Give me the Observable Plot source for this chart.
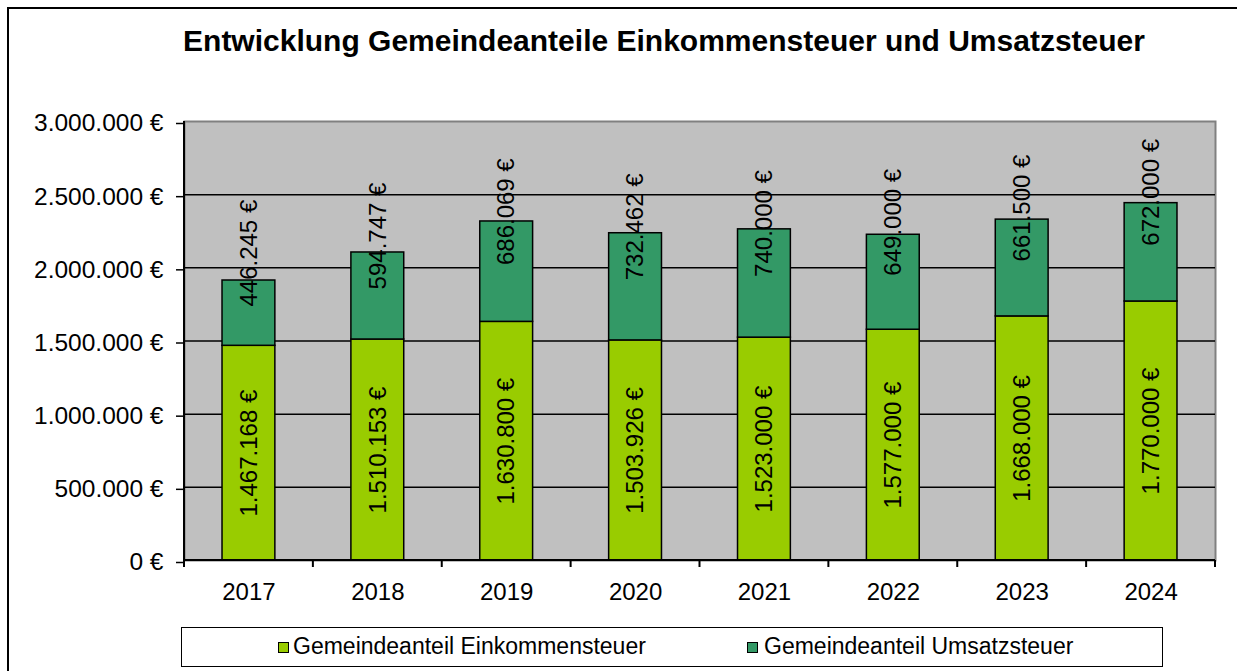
<!DOCTYPE html>
<html><head><meta charset="utf-8">
<script src="https://cdn.jsdelivr.net/npm/d3@7"></script>
<script src="https://cdn.jsdelivr.net/npm/@observablehq/plot@0.6"></script>
<style>
body{margin:0;background:#fff;font-family:"Liberation Sans",Arial,sans-serif;}
#wrap{position:relative;width:1237px;height:671px;overflow:hidden;background:#fff;}
#frame{position:absolute;left:7px;top:7px;width:1300px;height:800px;border-left:2px solid #000;border-top:2px solid #000;}
#title{position:absolute;left:0;top:26px;width:1328px;text-align:center;font-weight:bold;font-size:30px;line-height:30px;color:#000;white-space:nowrap;}
#chart{position:absolute;left:0;top:100px;}
#legend{position:absolute;left:181px;top:627px;width:982px;height:40px;box-sizing:border-box;border:1.5px solid #000;background:#fff;}
.mk{position:absolute;width:11px;height:11px;box-sizing:border-box;border:1.5px solid #000;}
.lt{position:absolute;font-size:23px;line-height:23px;color:#000;white-space:nowrap;}
</style>
</head><body>
<div id="wrap">
  <div id="frame"></div>
  <div id="title"></div>
  <div id="chart"></div>
  <div id="legend"></div>
</div>
<script>
const titleText = "Entwicklung Gemeindeanteile Einkommensteuer und Umsatzsteuer";
const years = ["2017","2018","2019","2020","2021","2022","2023","2024"];
const seriesNames = ["Gemeindeanteil Einkommensteuer","Gemeindeanteil Umsatzsteuer"];
const seriesColors = ["#99cc00","#339966"];
const einkommen = [1467168,1510153,1630800,1503926,1523000,1577000,1668000,1770000];
const umsatz = [446245,594747,686069,732462,740000,649000,661500,672000];
const yTicks = [0,500000,1000000,1500000,2000000,2500000,3000000];

const loc = d3.formatLocale({decimal:",",thousands:".",grouping:[3],currency:["",""]});
const num = loc.format(",");
const eur = v => num(v) + " €";

document.getElementById("title").textContent = titleText;

const data = [];
years.forEach((yr,i)=>{
  data.push({year:yr, series:seriesNames[0], value:einkommen[i]});
  data.push({year:yr, series:seriesNames[1], value:umsatz[i]});
});
const labE = years.map((yr,i)=>({year:yr, y:einkommen[i]/2, text:eur(einkommen[i])}));
const labU = years.map((yr,i)=>({year:yr, y:einkommen[i]+umsatz[i]/2, text:eur(umsatz[i])}));

function axisLines(index, scales, values, dims){
  const x = scales.x;
  const g = d3.create("svg:g");
  const x0 = dims.marginLeft, x1 = dims.width - dims.marginRight;
  const yb = dims.height - dims.marginBottom, yt = dims.marginTop;
  g.append("line").attr("x1",x0).attr("x2",x0).attr("y1",yt).attr("y2",yb).attr("stroke","#000").attr("stroke-width",2);
  g.append("line").attr("x1",x0).attr("x2",x1).attr("y1",yb).attr("y2",yb).attr("stroke","#000").attr("stroke-width",2);
  const step = x.step(), bw = x.bandwidth();
  const bnd = years.map(yr => x(yr) - (step - bw)/2);
  bnd.push(bnd[bnd.length-1] + step);
  bnd.forEach(b => g.append("line").attr("x1",b).attr("x2",b).attr("y1",yb).attr("y2",yb+7).attr("stroke","#000").attr("stroke-width",2));
  return g.node();
}

const chart = Plot.plot({
  width:1237, height:510, marginTop:21, marginBottom:50, marginLeft:184, marginRight:22,
  style:{fontFamily:"'Liberation Sans', Arial, sans-serif", background:"transparent", overflow:"visible", color:"#000"},
  x:{domain:years, paddingInner:0.59, paddingOuter:0.295, round:false, label:null},
  y:{domain:[0,3000000], label:null},
  color:{domain:seriesNames, range:seriesColors},
  marks:[
    Plot.frame({fill:"#c0c0c0", stroke:"#808080", strokeWidth:2}),
    Plot.ruleY(yTicks.filter(d=>d>0 && d<3000000), {stroke:"#000", strokeWidth:1.5}),
    Plot.barY(data, {x:"year", y:"value", fill:"series", stroke:"#000", strokeWidth:1.5}),
    axisLines,
    Plot.text(labE, {x:"year", y:"y", text:"text", rotate:-90, fontSize:24, fill:"#000", textAnchor:"middle"}),
    Plot.text(labU, {x:"year", y:"y", text:"text", rotate:-90, fontSize:24, fill:"#000", textAnchor:"middle", dy:-60}),
    Plot.axisY({ticks:yTicks, tickFormat:eur, tickSize:8, tickPadding:13, fontSize:24.5, strokeWidth:1.5, dy:2}),
    Plot.axisX({tickSize:0, tickPadding:22, fontSize:24})
  ]
});
document.getElementById("chart").appendChild(chart);

const leg = document.getElementById("legend");
const items = [{mx:96, tx:111},{mx:565, tx:582}];
items.forEach((it,i)=>{
  const m = document.createElement("div"); m.className="mk";
  m.style.left = it.mx+"px"; m.style.top = "14px"; m.style.background = seriesColors[i];
  leg.appendChild(m);
  const t = document.createElement("div"); t.className="lt";
  t.style.left = it.tx+"px"; t.style.top = "7px"; t.textContent = seriesNames[i];
  leg.appendChild(t);
});
</script>
</body></html>
